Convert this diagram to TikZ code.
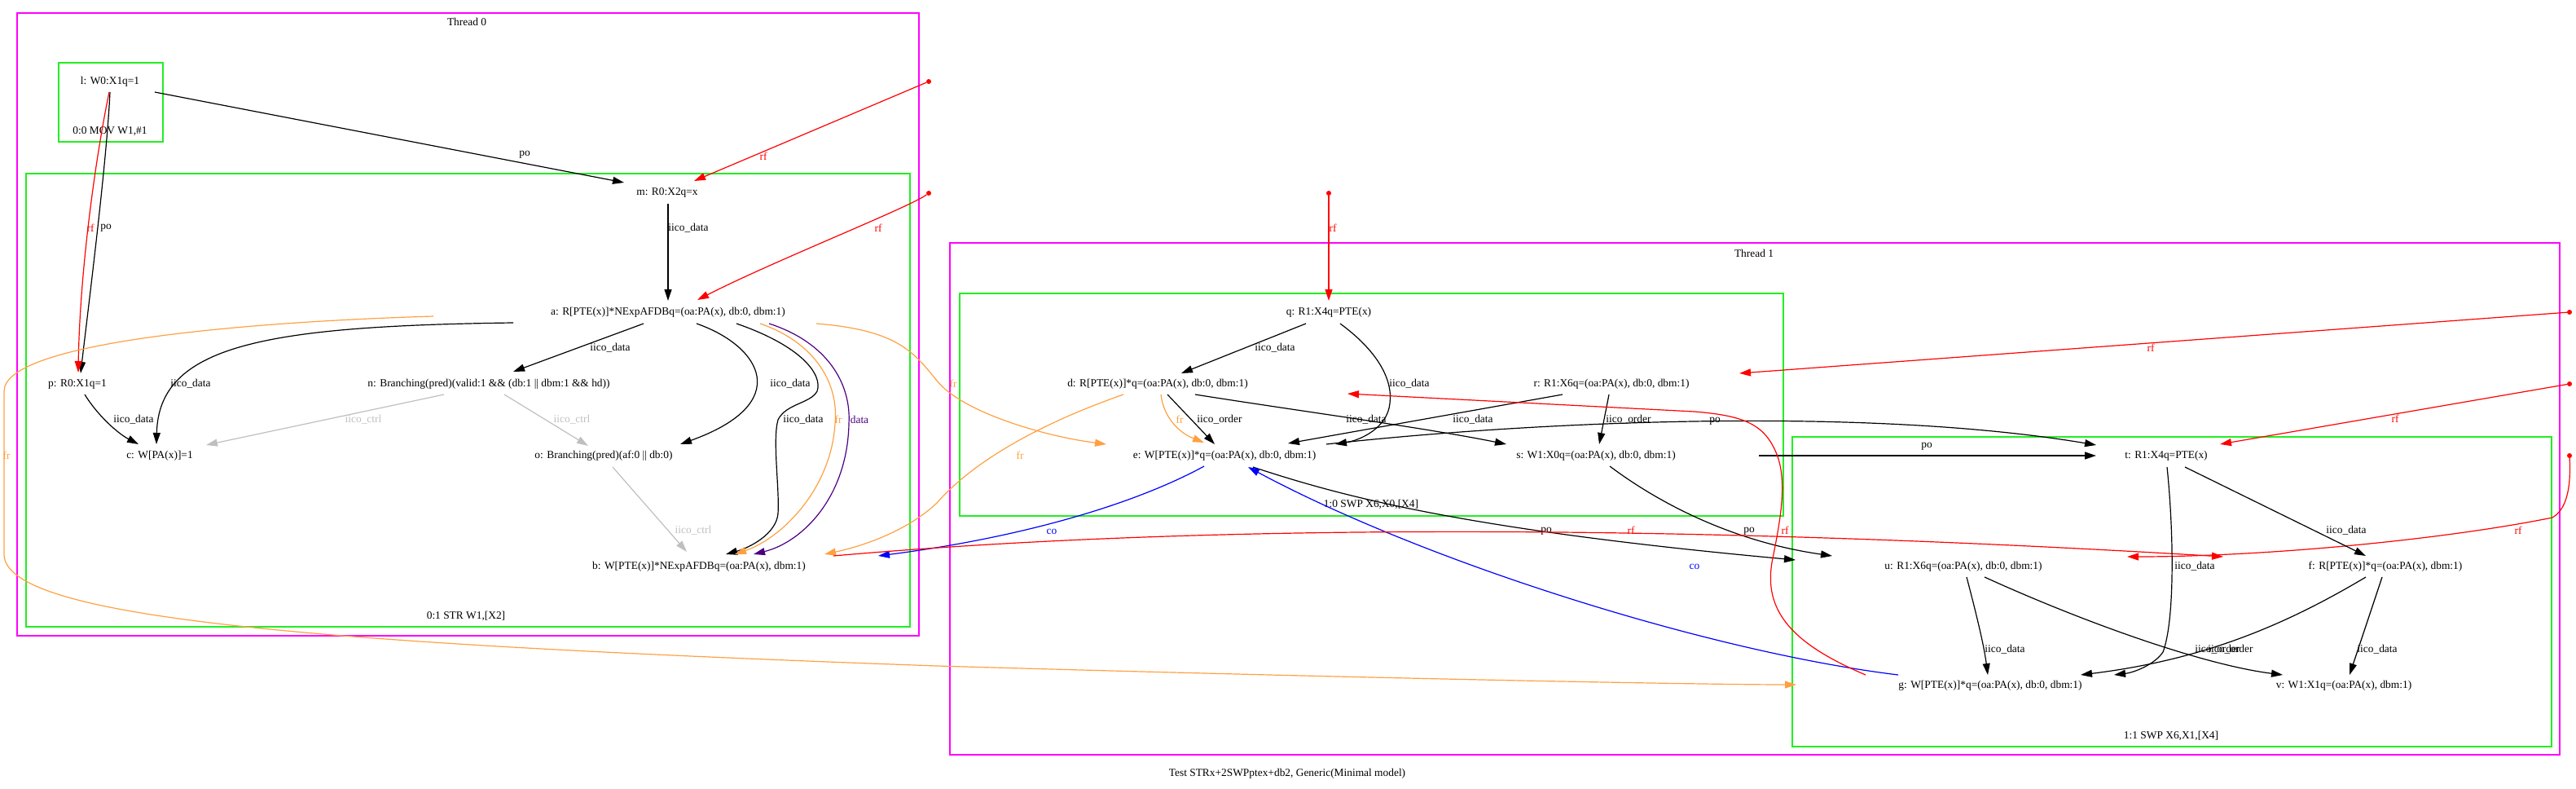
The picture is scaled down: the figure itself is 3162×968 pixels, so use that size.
\documentclass[tikz,border=0pt]{standalone}
\usepackage{fontspec}
\setmainfont{Liberation Serif}
\usetikzlibrary{arrows.meta}
\definecolor{clmag}{HTML}{FF00FF}
\definecolor{clgreen}{HTML}{22EE22}
\definecolor{frorange}{HTML}{FFA040}
\definecolor{dataindigo}{HTML}{4B0082}
\newcommand{\evsize}{\fontsize{13.4}{15}\selectfont}
\tikzset{
>={Triangle[length=14pt,width=9pt]}, % graphviz like arrow heads
every node/.style={font=\evsize, inner sep=0pt}, % all texts in the same size
threadbox/.style={draw=clmag, line width=1.3pt}, % one box per thread
instrbox/.style={draw=clgreen, line width=1.8pt}, % one box per instruction
iicoedge/.style={->, black, line width=1.2pt}, % po and iico edges
ctrledge/.style={->, gray!50, line width=1.2pt}, % iico_ctrl edges
rfedge/.style={->, red, line width=1.2pt}, % read from
fredge/.style={->, frorange, line width=1.2pt}, % from read
coedge/.style={->, blue, line width=1.2pt}, % coherence
dataedge/.style={->, dataindigo, line width=1.2pt}, % data dependency
initdot/.style={circle, fill=red, minimum size=6pt}, % initial writes
}
\begin{document}
\begin{tikzpicture}[x=1pt,y=-1pt]
\useasboundingbox (0,0) rectangle (3162,968);
\draw[threadbox] (21,16) rectangle (1128,780);
\node (th0) at (573,27) {Thread 0};
\draw[instrbox] (72,77) rectangle (200,174);
\node (in00) at (135,161) {0:0 MOV W1,\#1};
\draw[instrbox] (32,213) rectangle (1117,769);
\node (in01) at (572,756) {0:1 STR W1,[X2]};
\draw[threadbox] (1166,298) rectangle (3142,926);
\node (th1) at (2153,311) {Thread 1};
\draw[instrbox] (1178,360) rectangle (2189,633);
\node (in10) at (1683,619) {1:0 SWP X6,X0,[X4]};
\draw[instrbox] (2200,536) rectangle (3132,916);
\node (in11) at (2665,903) {1:1 SWP X6,X1,[X4]};

\node (l) at (135,100) {l: W0:X1q=1};
\node (m) at (819,236) {m: R0:X2q=x};
\node (a) at (820,383) {a: R[PTE(x)]*NExpAFDBq=(oa:PA(x), db:0, dbm:1)};
\node (p) at (95,471) {p: R0:X1q=1};
\node (n) at (600,471) {n: Branching(pred)(valid:1 \&\& (db:1 || dbm:1 \&\& hd))};
\node (c) at (196,559) {c: W[PA(x)]=1};
\node (o) at (741,559) {o: Branching(pred)(af:0 || db:0)};
\node (b) at (858,695) {b: W[PTE(x)]*NExpAFDBq=(oa:PA(x), dbm:1)};
\node (q) at (1631,383) {q: R1:X4q=PTE(x)};
\node (d) at (1421,471) {d: R[PTE(x)]*q=(oa:PA(x), db:0, dbm:1)};
\node (r) at (1978,471) {r: R1:X6q=(oa:PA(x), db:0, dbm:1)};
\node (e) at (1503,559) {e: W[PTE(x)]*q=(oa:PA(x), db:0, dbm:1)};
\node (s) at (1959,559) {s: W1:X0q=(oa:PA(x), db:0, dbm:1)};
\node (t) at (2659,559) {t: R1:X4q=PTE(x)};
\node (u) at (2410,695) {u: R1:X6q=(oa:PA(x), db:0, dbm:1)};
\node (f) at (2928,695) {f: R[PTE(x)]*q=(oa:PA(x), dbm:1)};
\node (g) at (2443,841) {g: W[PTE(x)]*q=(oa:PA(x), db:0, dbm:1)};
\node (v) at (2877,841) {v: W1:X1q=(oa:PA(x), dbm:1)};
\node (title) at (1580,949) {Test STRx+2SWPptex+db2, Generic(Minimal model)};

\node[initdot] (i1) at (1140,100) {};
\node[initdot] (i2) at (1140,237) {};
\node[initdot] (i3) at (1631,237) {};
\node[initdot] (i4) at (3154,383) {};
\node[initdot] (i5) at (3154,471) {};
\node[initdot] (i6) at (3154,559) {};

\draw[iicoedge] ([shift={(55,13)}]l.center) -- ([shift={(-53,-12)}]m.center) node at (644,190) {po};
\draw[iicoedge] ([shift={(0,13)}]l.center) .. controls (131,200) and (108,380) .. ([shift={(4,-13)}]p.center) node at (130,280) {po};
\draw[rfedge] ([shift={(-1,13)}]l.center) .. controls (118,190) and (98,330) .. ([shift={(1,-14)}]p.center) node at (111,280) {rf};
\draw[iicoedge] ([shift={(1,14)}]m.center) -- ([shift={(0,-14)}]a.center) node at (845,280) {iico\_data};
\draw[rfedge] (i1) -- ([shift={(33,-14)}]m.center) node at (937,192) {rf};
\draw[rfedge] (i2) .. controls (1115,255) and (950,320) .. ([shift={(36,-15)}]a.center) node at (1078,280) {rf};
\draw[iicoedge] ([shift={(-190,13)}]a.center) .. controls (320,400) and (195,425) .. ([shift={(-4,-14)}]c.center) node at (234,471) {iico\_data};
\draw[iicoedge] ([shift={(9,13)}]p.center) .. controls (120,510) and (145,532) .. ([shift={(-26,-14)}]c.center) node at (164,515) {iico\_data};
\draw[ctrledge] ([shift={(-55,13)}]n.center) -- ([shift={(57,-13)}]c.center) node at (446,515) {iico\_ctrl};
\draw[iicoedge] ([shift={(-30,14)}]a.center) -- ([shift={(30,-15)}]n.center) node at (749,427) {iico\_data};
\draw[ctrledge] ([shift={(19,13)}]n.center) -- ([shift={(-19,-12)}]o.center) node at (702,515) {iico\_ctrl};
\draw[iicoedge] ([shift={(35,14)}]a.center) .. controls (935,425) and (975,495) .. ([shift={(94,-14)}]o.center) node at (970,471) {iico\_data};
\draw[ctrledge] ([shift={(11,14)}]o.center) -- ([shift={(-15,-18)}]b.center) node at (851,651) {iico\_ctrl};
\draw[iicoedge] ([shift={(84,14)}]a.center) .. controls (985,425) and (1010,460) .. (1003,480) .. controls (995,495) and (965,495) .. (955,515) .. controls (948,540) and (957,600) .. (955,630) .. controls (953,655) and (920,672) .. ([shift={(33,-15)}]b.center) node at (986,515) {iico\_data};
\draw[fredge] ([shift={(113,14)}]a.center) .. controls (1000,420) and (1030,470) .. (1025,520) .. controls (1020,600) and (960,660) .. ([shift={(44,-15)}]b.center) node at (1029,515) {fr};
\draw[dataedge] ([shift={(124,14)}]a.center) .. controls (1015,420) and (1045,470) .. (1042,520) .. controls (1040,610) and (985,665) .. ([shift={(67,-15)}]b.center) node at (1055,515) {data};
\draw[fredge] ([shift={(182,14)}]a.center) .. controls (1100,405) and (1120,430) .. (1150,467) .. controls (1180,505) and (1280,535) .. ([shift={(-145,-14)}]e.center) node at (1170,471) {fr};
\draw[fredge] ([shift={(-42,13)}]d.center) .. controls (1290,515) and (1200,560) .. (1150,617) .. controls (1110,655) and (1050,672) .. ([shift={(154,-15)}]b.center) node at (1252,559) {fr};
\draw[fredge] ([shift={(-288,5)}]a.center) .. controls (300,395) and (5,420) .. (5,480) -- (5,680) .. controls (5,760) and (400,790) .. (1150,817) .. controls (1700,833) and (2100,840) .. ([shift={(-238,-1)}]g.center) node at (8,559) {fr};

\draw[rfedge] (i3) -- ([shift={(0,-14)}]q.center) node at (1636,280) {rf};
\draw[iicoedge] ([shift={(-28,14)}]q.center) -- ([shift={(29,-13)}]d.center) node at (1565,427) {iico\_data};
\draw[iicoedge] ([shift={(14,14)}]q.center) .. controls (1690,430) and (1710,465) .. (1706,495) .. controls (1703,525) and (1670,540) .. ([shift={(136,-14)}]e.center) node at (1730,471) {iico\_data};
\draw[iicoedge] ([shift={(-60,13)}]r.center) -- ([shift={(78,-15)}]e.center) node at (1808,515) {iico\_data};
\draw[iicoedge] ([shift={(12,13)}]d.center) -- ([shift={(-12,-14)}]e.center) node at (1497,515) {iico\_order};
\draw[fredge] ([shift={(4,13)}]d.center) .. controls (1428,510) and (1445,530) .. ([shift={(-25,-16)}]e.center) node at (1448,515) {fr};
\draw[iicoedge] ([shift={(46,13)}]d.center) .. controls (1600,505) and (1750,525) .. ([shift={(-110,-14)}]s.center) node at (1677,515) {iico\_data};
\draw[iicoedge] ([shift={(-3,13)}]r.center) -- ([shift={(4,-14)}]s.center) node at (1999,515) {iico\_order};
\draw[iicoedge] ([shift={(125,-14)}]e.center) .. controls (1900,515) and (2300,500) .. ([shift={(-86,-13)}]t.center) node at (2105,517) {po};
\draw[iicoedge] ([shift={(200,0)}]s.center) -- ([shift={(-86,0)}]t.center) node at (2365,548) {po};
\draw[iicoedge] ([shift={(17,13)}]s.center) .. controls (2040,620) and (2130,665) .. ([shift={(-161,-13)}]u.center) node at (2147,652) {po};
\draw[iicoedge] ([shift={(35,14)}]e.center) .. controls (1650,610) and (1800,650) .. ([shift={(-206,-8)}]u.center) node at (1898,652) {po};
\draw[coedge] ([shift={(-25,13)}]e.center) .. controls (1390,620) and (1250,660) .. ([shift={(220,-13)}]b.center) node at (1291,652) {co};
\draw[coedge] ([shift={(-113,-13)}]g.center) .. controls (2100,800) and (1750,690) .. ([shift={(29,14)}]e.center) node at (2080,695) {co};
\draw[rfedge] ([shift={(165,-13)}]b.center) .. controls (1500,640) and (2100,645) .. ([shift={(-199,-12)}]f.center) node at (2002,651) {rf};
\draw[rfedge] ([shift={(-153,-13)}]g.center) .. controls (2200,790) and (2165,750) .. (2175,690) .. controls (2185,640) and (2195,590) .. (2180,555) .. controls (2165,520) and (2140,510) .. (2080,505) -- ([shift={(233,12)}]d.center) node at (2191,651) {rf};
\draw[rfedge] (i4) -- ([shift={(157,-13)}]r.center) node at (2640,427) {rf};
\draw[rfedge] (i5) -- ([shift={(66,-14)}]t.center) node at (2940,514) {rf};
\draw[rfedge] (i6) .. controls (3156,600) and (3150,625) .. (3133,635) .. controls (3000,662) and (2780,683) .. ([shift={(201,-12)}]u.center) node at (3091,651) {rf};
\draw[iicoedge] ([shift={(23,14)}]t.center) -- ([shift={(-24,-13)}]f.center) node at (2880,651) {iico\_data};
\draw[iicoedge] ([shift={(1,14)}]t.center) .. controls (2668,650) and (2670,760) .. (2655,800) .. controls (2645,815) and (2620,825) .. ([shift={(152,-13)}]g.center) node at (2694,695) {iico\_data};
\draw[iicoedge] ([shift={(-24,13)}]f.center) .. controls (2800,770) and (2700,810) .. ([shift={(111,-13)}]g.center) node at (2722,797) {iico\_order};
\draw[iicoedge] ([shift={(26,13)}]u.center) .. controls (2550,760) and (2700,815) .. ([shift={(-75,-13)}]v.center) node at (2738,797) {iico\_order};
\draw[iicoedge] ([shift={(4,13)}]u.center) .. controls (2425,750) and (2435,790) .. ([shift={(-3,-13)}]g.center) node at (2461,797) {iico\_data};
\draw[iicoedge] ([shift={(-4,13)}]f.center) -- ([shift={(7,-13)}]v.center) node at (2918,797) {iico\_data};
\end{tikzpicture}
\end{document}
